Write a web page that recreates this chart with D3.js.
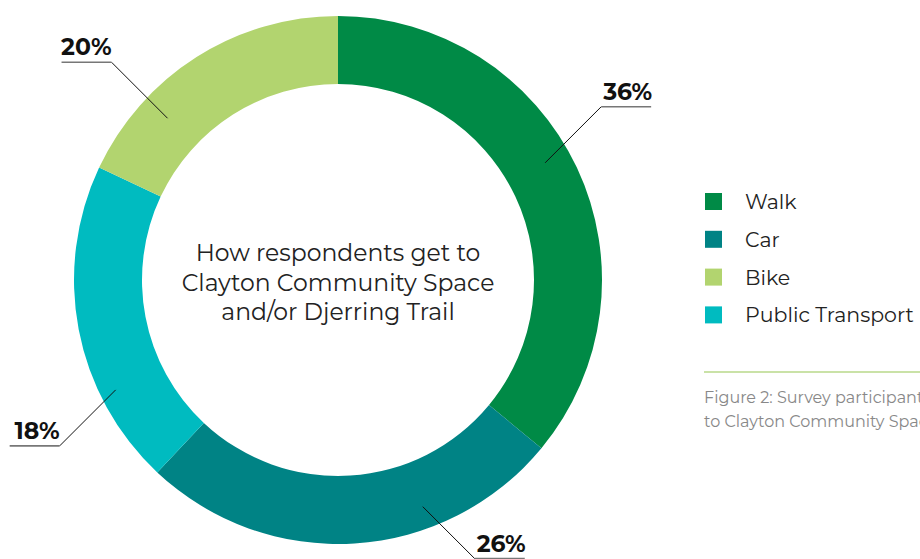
<!DOCTYPE html>
<html>
<head>
<meta charset="utf-8">
<script src="https://cdn.jsdelivr.net/npm/d3@7"></script>
<style>
  body { margin: 0; background: #fff; }
  svg { font-family: "Montserrat", "Lato", "Noto Sans", sans-serif; display: block; }
</style>
</head>
<body>
<div id="grafico"></div>
<script>
// Dados
const categorias = ['Walk', 'Car', 'Public Transport', 'Bike'];
const valores = [36, 26, 20, 18];
const rotulos = ['36%', '26%', '18%', '20%'];
const cores = ['#008a46', '#008385', '#00bbc0', '#b2d46f'];
const ordemLegenda = ['Walk', 'Car', 'Bike', 'Public Transport'];
const titulo = ['How respondents get to', 'Clayton Community Space', 'and/or Djerring Trail'];
const legenda = [
  "Figure 2: Survey participants' mode of travel",
  'to Clayton Community Space and/or Djerring Trail'
];

// Configurações
const largura = 920;
const altura = 559;
const centro = { x: 338, y: 280 };
const raioExterno = 264;
const raioInterno = 196;

// Posição das linhas de chamada (ângulo em graus, raio, direção, comprimento)
const chamadas = [
  { angulo: 60.5, raio: 238, dx: 1, dy: -1, tam: 56 },
  { angulo: 159.5, raio: 242, dx: 1, dy: 1, tam: 52 },
  { angulo: 243.7, raio: 248, dx: -1, dy: 1, tam: 56 },
  { angulo: 313.5, raio: 235, dx: -1, dy: -1, tam: 56 }
];

const svg = d3
  .select('#grafico')
  .append('svg')
  .attr('width', largura)
  .attr('height', altura);

const g = svg.append('g').attr('transform', `translate(${centro.x},${centro.y})`);

const pie = d3.pie().sort(null).value((d) => d);
const arco = d3.arc().innerRadius(raioInterno).outerRadius(raioExterno);

const fatias = pie(valores);

g.selectAll('.fatia')
  .data(fatias)
  .enter()
  .append('path')
  .attr('class', 'fatia')
  .attr('d', arco)
  .attr('fill', (d, i) => cores[i]);

// Texto central
g.selectAll('.titulo')
  .data(titulo)
  .enter()
  .append('text')
  .attr('text-anchor', 'middle')
  .attr('y', (d, i) => -19 + i * 29.5)
  .attr('font-size', 23.5)
  .attr('fill', '#222')
  .text((d) => d);

// Rótulos com linhas
const larguraSub = 50;

chamadas.forEach((c, i) => {
  const a = (c.angulo * Math.PI) / 180;
  const px = c.raio * Math.sin(a);
  const py = -c.raio * Math.cos(a);
  const ex = px + c.dx * c.tam;
  const ey = py + c.dy * c.tam;
  const fx = ex + c.dx * larguraSub;

  g.append('line')
    .attr('x1', px).attr('y1', py)
    .attr('x2', ex).attr('y2', ey)
    .attr('stroke', '#111')
    .attr('stroke-width', 1);

  g.append('line')
    .attr('x1', ex).attr('y1', ey)
    .attr('x2', fx).attr('y2', ey)
    .attr('stroke', '#777')
    .attr('stroke-width', 1.6);

  g.append('text')
    .attr('x', c.dx > 0 ? ex + 2 : ex)
    .attr('y', ey - 7)
    .attr('text-anchor', c.dx > 0 ? 'start' : 'end')
    .attr('font-size', 23.5)
    .attr('font-weight', 'bold')
    .attr('fill', '#111')
    .text(rotulos[i]);
});

// Legenda
const leg = svg.append('g').attr('transform', 'translate(705,193)');
const itens = leg
  .selectAll('.item')
  .data(ordemLegenda)
  .enter()
  .append('g')
  .attr('transform', (d, i) => `translate(0,${i * 37.8})`);

itens
  .append('rect')
  .attr('width', 17)
  .attr('height', 17)
  .attr('fill', (d) => cores[categorias.indexOf(d)]);

itens
  .append('text')
  .attr('x', 40)
  .attr('y', 16)
  .attr('font-size', 20.5)
  .attr('fill', '#222')
  .text((d) => d);

// Linha e legenda da figura
svg.append('line')
  .attr('x1', 704).attr('x2', largura)
  .attr('y1', 372).attr('y2', 372)
  .attr('stroke', '#b8d98a')
  .attr('stroke-width', 1.5);

svg.selectAll('.figura')
  .data(legenda)
  .enter()
  .append('text')
  .attr('x', 704)
  .attr('y', (d, i) => 403 + i * 24)
  .attr('font-size', 16)
  .attr('fill', '#888')
  .text((d) => d);
</script>
</body>
</html>
